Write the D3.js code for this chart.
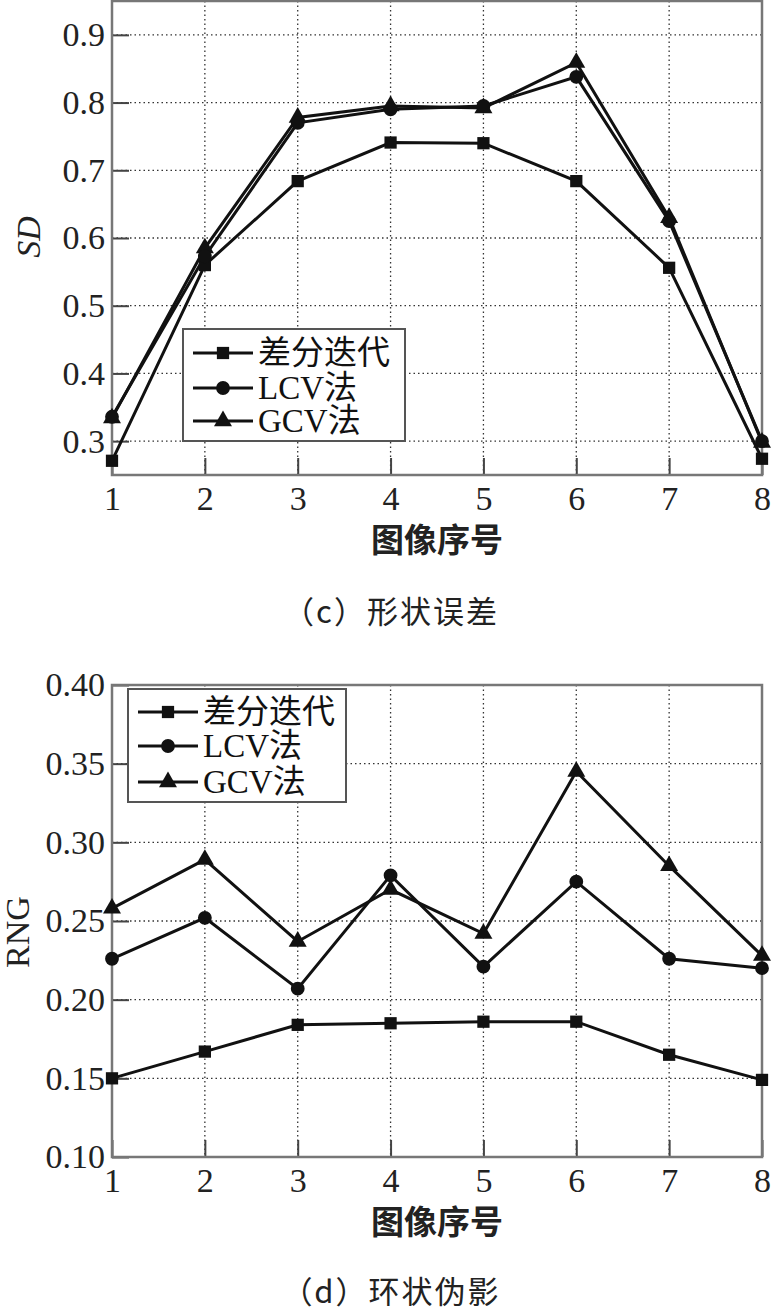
<!DOCTYPE html>
<html>
<head>
<meta charset="utf-8">
<script src="https://cdn.jsdelivr.net/npm/d3@7"></script>
<style>
  html, body { margin: 0; padding: 0; background: #fff; }
  svg { display: block; }
</style>
</head>
<body>
<svg id="chart" width="772" height="1312"></svg>
<script>
// ---------- data ----------
const imageIndex = [1, 2, 3, 4, 5, 6, 7, 8];
const seriesNames = ["差分迭代", "LCV法", "GCV法"];

// (c) 形状误差 SD
const sdDiff = [0.271, 0.560, 0.684, 0.741, 0.740, 0.684, 0.556, 0.274];
const sdLCV  = [0.336, 0.573, 0.770, 0.790, 0.795, 0.838, 0.625, 0.300];
const sdGCV  = [0.334, 0.585, 0.778, 0.795, 0.792, 0.859, 0.630, 0.298];
const sdTicks = [0.3, 0.4, 0.5, 0.6, 0.7, 0.8, 0.9];

// (d) 环状伪影 RNG
const rngDiff = [0.150, 0.167, 0.184, 0.185, 0.186, 0.186, 0.165, 0.149];
const rngLCV  = [0.226, 0.252, 0.207, 0.279, 0.221, 0.275, 0.226, 0.220];
const rngGCV  = [0.258, 0.289, 0.237, 0.270, 0.242, 0.345, 0.285, 0.228];
const rngTicks = [0.10, 0.15, 0.20, 0.25, 0.30, 0.35, 0.40];

const captions = ["（c）形状误差", "（d）环状伪影"];
const xTitle = "图像序号";

// ---------- drawing ----------
const svg = d3.select("#chart");
const serif = "Liberation Serif, Times New Roman, Noto Sans CJK SC, serif";
const cjk = "Noto Sans CJK SC, sans-serif";
const symbols = [d3.symbolSquare, d3.symbolCircle, d3.symbolTriangle];
const symSizes = [150, 150, 140];
const drawOrder = [0, 2, 1]; // circles on top of triangles

function panel(cfg) {
  const x = d3.scaleLinear().domain([1, 8]).range([cfg.left, cfg.right]);
  const y = d3.scaleLinear().domain(cfg.yDomain).range([cfg.bottom, cfg.top]);
  const g = svg.append("g");

  // grid (dotted)
  const grid = g.append("g").attr("stroke", "#333").attr("stroke-width", 1.3)
    .attr("stroke-dasharray", "1.5,3");
  grid.selectAll(".gx").data(imageIndex.slice(1, -1)).join("line")
    .attr("x1", d => x(d)).attr("x2", d => x(d))
    .attr("y1", cfg.top).attr("y2", cfg.bottom);
  grid.selectAll(".gy").data(cfg.ticks.filter(t => t > cfg.yDomain[0] && t < cfg.yDomain[1])).join("line")
    .attr("x1", cfg.left).attr("x2", cfg.right)
    .attr("y1", d => y(d)).attr("y2", d => y(d));

  // axes with inner ticks
  const xAxis = d3.axisBottom(x).tickValues(imageIndex).tickSize(-17).tickPadding(11)
    .tickFormat(d3.format("d"));
  const yAxis = d3.axisLeft(y).tickValues(cfg.ticks).tickSize(-17).tickPadding(7)
    .tickFormat(d3.format(cfg.fmt));
  const gx = g.append("g").attr("transform", `translate(0,${cfg.bottom})`).call(xAxis);
  const gy = g.append("g").attr("transform", `translate(${cfg.left},0)`).call(yAxis);
  [gx, gy].forEach(a => {
    a.attr("font-family", serif).attr("font-size", 34);
    a.select(".domain").remove();
    a.selectAll(".tick line").attr("stroke", "#444").attr("stroke-width", 2);
    a.selectAll(".tick text").attr("fill", "#222")
      .attr("font-family", serif).attr("font-size", 34);
  });

  // frame
  g.append("rect").attr("x", cfg.left).attr("y", cfg.top)
    .attr("width", cfg.right - cfg.left).attr("height", cfg.bottom - cfg.top)
    .attr("fill", "none").attr("stroke", "#777").attr("stroke-width", 2.5);

  // series
  const line = d3.line().x((d, i) => x(imageIndex[i])).y(d => y(d));
  drawOrder.forEach(k => {
    g.append("path").datum(cfg.series[k]).attr("d", line)
      .attr("fill", "none").attr("stroke", "#111").attr("stroke-width", 3)
      .attr("stroke-linejoin", "miter");
  });
  drawOrder.forEach(k => {
    g.selectAll(null).data(cfg.series[k]).join("path")
      .attr("transform", (d, i) => `translate(${x(imageIndex[i])},${y(d)})`)
      .attr("d", d3.symbol().type(symbols[k]).size(symSizes[k]))
      .attr("fill", "#111");
  });

  // legend
  const L = cfg.legend;
  const lg = g.append("g");
  lg.append("rect").attr("x", L.x).attr("y", L.y).attr("width", L.w).attr("height", L.h)
    .attr("fill", "#fff").attr("stroke", "#555").attr("stroke-width", 2);
  seriesNames.forEach((name, k) => {
    const yy = L.rows[k];
    lg.append("line").attr("x1", L.x + 10).attr("x2", L.x + 70)
      .attr("y1", yy).attr("y2", yy).attr("stroke", "#111").attr("stroke-width", 3);
    lg.append("path").attr("transform", `translate(${L.x + 40},${yy})`)
      .attr("d", d3.symbol().type(symbols[k]).size(symSizes[k])).attr("fill", "#111");
    lg.append("text").attr("x", L.x + 75).attr("y", yy + 11)
      .attr("font-family", serif).attr("font-size", 33).attr("fill", "#111")
      .text(name);
  });

  // x title
  g.append("text").attr("x", (cfg.left + cfg.right) / 2).attr("y", cfg.bottom + 77)
    .attr("text-anchor", "middle").attr("font-family", cjk).attr("font-weight", "bold")
    .attr("font-size", 33).attr("fill", "#222").text(xTitle);

  // y title
  g.append("text")
    .attr("transform", `translate(${cfg.yTitleX},${cfg.yTitleY}) rotate(-90)`)
    .attr("text-anchor", "middle").attr("font-family", serif)
    .attr("font-style", cfg.yTitleItalic ? "italic" : "normal")
    .attr("font-size", 34).attr("fill", "#222").text(cfg.yTitle);

  // caption
  g.append("text").attr("x", 391).attr("y", cfg.captionY)
    .attr("text-anchor", "middle").attr("font-family", cjk)
    .attr("font-size", 31).attr("letter-spacing", 2).attr("fill", "#222")
    .text(cfg.caption);
}

panel({
  left: 112, right: 762, top: 1, bottom: 475,
  yDomain: [0.25, 0.95], ticks: sdTicks, fmt: ".1f",
  series: [sdDiff, sdLCV, sdGCV],
  legend: { x: 183, y: 329, w: 222, h: 112, rows: [353, 388, 421] },
  yTitle: "SD", yTitleItalic: true, yTitleX: 40, yTitleY: 237,
  caption: captions[0], captionY: 623
});

panel({
  left: 112, right: 762, top: 685, bottom: 1157,
  yDomain: [0.10, 0.40], ticks: rngTicks, fmt: ".2f",
  series: [rngDiff, rngLCV, rngGCV],
  legend: { x: 128, y: 689, w: 218, h: 113, rows: [712, 746, 782] },
  yTitle: "RNG", yTitleItalic: false, yTitleX: 29, yTitleY: 932,
  caption: captions[1], captionY: 1303
});
</script>
</body>
</html>
